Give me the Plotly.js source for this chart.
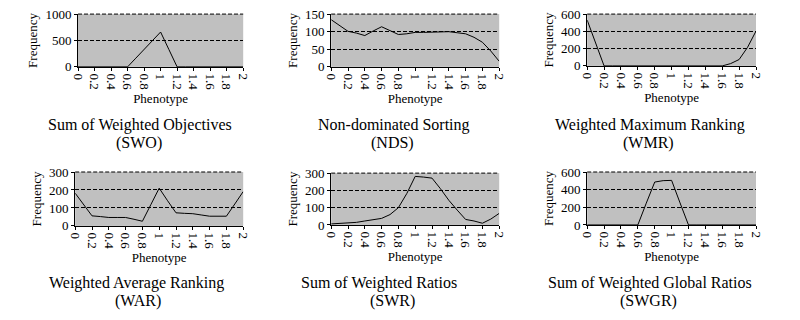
<!DOCTYPE html>
<html lang="en">
<head>
    <meta charset="UTF-8">
    <title>Phenotype distributions</title>
    <script src="https://cdn.plot.ly/plotly-3.0.1.min.js" charset="utf-8"></script>
    <style>
        body { margin: 0; background: #fff; }
        #chart { width: 800px; height: 320px; }
    </style>
</head>
<body>
<div id="chart"></div>
<script>
// Phenotype values (x axis), one sample every 0.1
const phenotype = [0, 0.1, 0.2, 0.3, 0.4, 0.5, 0.6, 0.7, 0.8, 0.9, 1.0,
                   1.1, 1.2, 1.3, 1.4, 1.5, 1.6, 1.7, 1.8, 1.9, 2.0];

// Frequency per method
const swo  = [0, 0, 0, 0, 0, 0, 0, 165, 330, 495, 660, 330, 0, 0, 0, 0, 0, 0, 0, 0, 0];
const nds  = [134, 118, 101, 96, 89, 102, 114, 103, 92, 94, 98, 98, 98, 99, 100, 97, 94, 84, 70, 45, 16];
const wmr  = [530, 260, 0, 0, 0, 0, 0, 0, 0, 0, 0, 0, 0, 0, 0, 0, 0, 27, 74, 215, 403];
const war  = [182, 120, 56, 52, 47, 47, 47, 37, 26, 118, 210, 140, 73, 70, 68, 61, 54, 54, 54, 122, 191];
const swr  = [6, 8, 10, 15, 23, 30, 38, 60, 100, 182, 281, 277, 271, 210, 143, 86, 32, 23, 10, 34, 67];
const swgr = [0, 0, 0, 0, 0, 0, 0, 247, 486, 502, 505, 250, 0, 0, 0, 0, 0, 0, 0, 0, 0];

const methodNames = ['Sum of Weighted Objectives', 'Non-dominated Sorting', 'Weighted Maximum Ranking',
                     'Weighted Average Ranking', 'Sum of Weighted Ratios', 'Sum of Weighted Global Ratios'];
const methodCodes = ['(SWO)', '(NDS)', '(WMR)', '(WAR)', '(SWR)', '(SWGR)'];
const yMax  = [1000, 150, 600, 300, 300, 600];
const yStep = [500, 50, 200, 100, 100, 200];
const series = [swo, nds, wmr, war, swr, swgr];

// panel placement (paper coords)
const xDomains = [[0.0975, 0.304], [0.414, 0.624], [0.734, 0.945],
                  [0.094, 0.304], [0.414, 0.624], [0.734, 0.945]];
const yDomains = [[0.791, 0.956], [0.791, 0.956], [0.794, 0.956],
                  [0.294, 0.4625], [0.297, 0.459], [0.297, 0.4625]];
const captionX = [0.175, 0.493, 0.812, 0.171, 0.474, 0.812];
const codeX    = [0.174, 0.491, 0.811, 0.172, 0.491, 0.81];
const captionY = [125, 125, 125, 283, 283, 283];

const serif = 'Liberation Serif';
const dash = '4px,2px';
function axisFont() { return { family: serif, size: 13, color: '#000' }; }

const data = [];
const layout = {
    width: 800,
    height: 320,
    margin: { l: 0, r: 0, t: 0, b: 0 },
    paper_bgcolor: '#ffffff',
    plot_bgcolor: '#c0c0c0',
    showlegend: false,
    font: axisFont(),
    annotations: [],
    shapes: []
};

series.forEach((vals, i) => {
    const n = i + 1;
    const xa = n === 1 ? 'x' : 'x' + n;
    const ya = n === 1 ? 'y' : 'y' + n;
    data.push({
        x: phenotype,
        y: vals,
        xaxis: xa,
        yaxis: ya,
        mode: 'lines',
        line: { color: '#000', width: 1 },
        hoverinfo: 'x+y'
    });

    layout['xaxis' + (n === 1 ? '' : n)] = {
        domain: xDomains[i],
        anchor: ya,
        range: [0, 2],
        tick0: 0,
        dtick: 0.2,
        tickangle: 90,
        ticks: 'outside',
        ticklen: 3,
        tickcolor: '#000',
        showgrid: false,
        zeroline: false,
        showline: true,
        linecolor: '#000',
        linewidth: 1,
        tickfont: axisFont(),
        title: { text: 'Phenotype', font: axisFont(), standoff: 4 },
        automargin: false,
        fixedrange: true
    };
    layout['yaxis' + (n === 1 ? '' : n)] = {
        domain: yDomains[i],
        anchor: xa,
        range: [0, yMax[i]],
        tick0: 0,
        dtick: yStep[i],
        ticks: 'outside',
        ticklen: 3,
        tickcolor: '#000',
        showgrid: true,
        gridcolor: '#000',
        gridwidth: 1,
        griddash: dash,
        zeroline: false,
        showline: true,
        linecolor: '#000',
        linewidth: 1,
        tickfont: axisFont(),
        title: { text: 'Frequency', font: axisFont(), standoff: 4 },
        automargin: false,
        fixedrange: true
    };

    // dashed top gridline at the axis maximum
    layout.shapes.push({
        type: 'line',
        xref: xa + ' domain', yref: ya + ' domain',
        x0: 0, x1: 1, y0: 1, y1: 1,
        line: { color: '#000', width: 1, dash: dash }
    });

    layout.annotations.push({
        text: methodNames[i],
        xref: 'paper', yref: 'paper',
        x: captionX[i], y: 1 - captionY[i] / 320,
        xanchor: 'center', yanchor: 'middle',
        showarrow: false,
        font: { family: serif, size: 16, color: '#000' }
    });
    layout.annotations.push({
        text: methodCodes[i],
        xref: 'paper', yref: 'paper',
        x: codeX[i], y: 1 - (captionY[i] + 18) / 320,
        xanchor: 'center', yanchor: 'middle',
        showarrow: false,
        font: { family: serif, size: 16, color: '#000' }
    });
});

Plotly.newPlot('chart', data, layout, { displayModeBar: false, staticPlot: true });
</script>
</body>
</html>
